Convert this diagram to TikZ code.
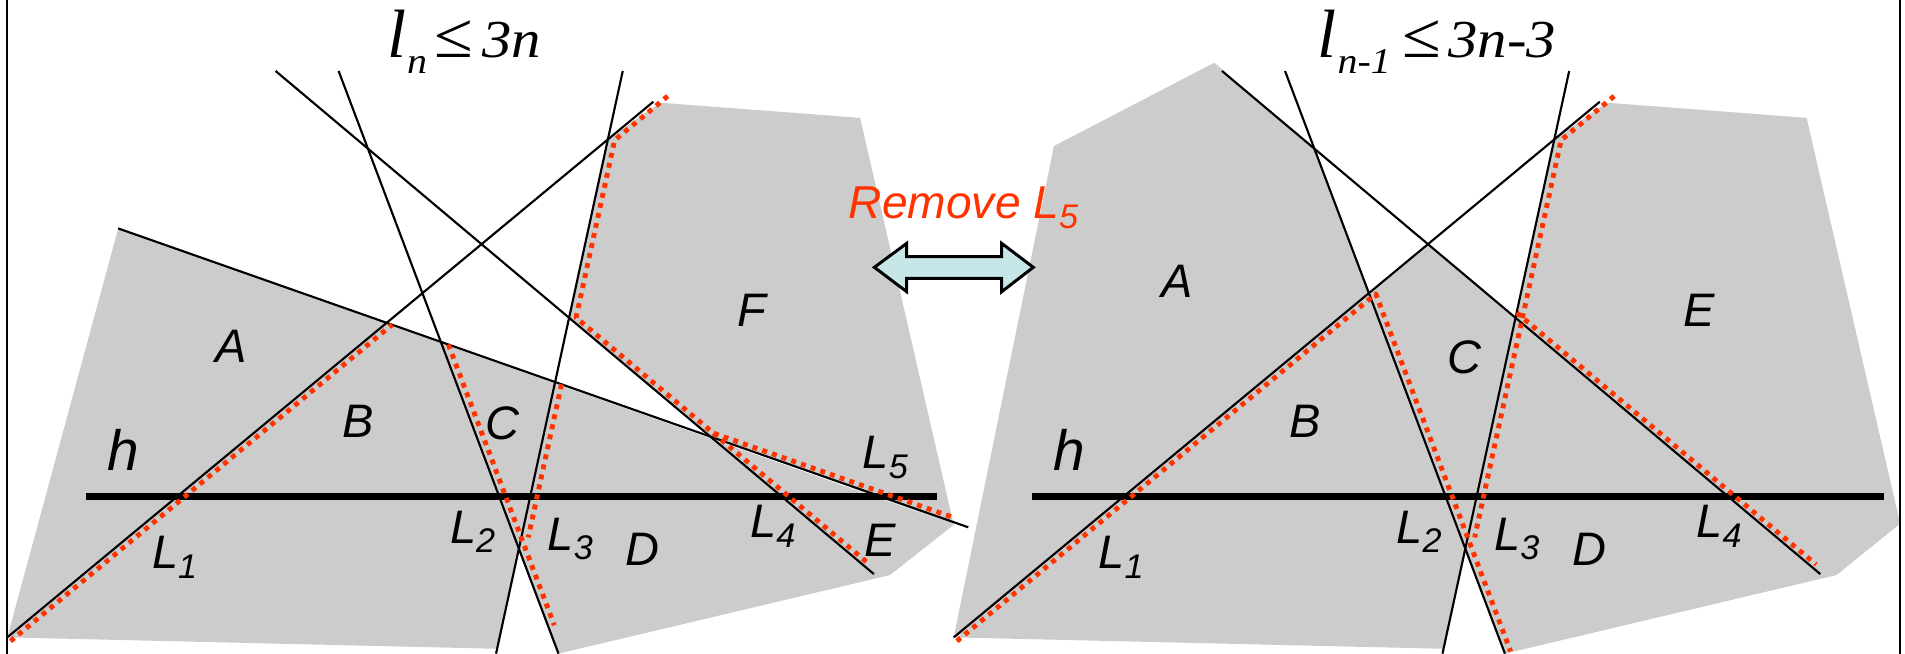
\documentclass[tikz,border=0pt]{standalone}
\usepackage{fontspec}
\usepackage{graphicx}
\setmainfont{Liberation Serif}
\newfontfamily\arialf{Liberation Sans}
\newfontfamily\timesf{Liberation Serif}
\usetikzlibrary{calc}
\definecolor{greyface}{RGB}{204,204,204}
\definecolor{zonered}{RGB}{255,51,0}
\definecolor{arrowfill}{RGB}{198,230,232}
\newcommand\Ls[1]{\textit{L}\raisebox{-2.3pt}{\fontsize{8}{8}\selectfont\textit{#1}}}
\newcommand\DefLines[2]{%
  \coordinate (#1L1a) at (6+#2,524.6);
  \coordinate (#1L1b) at (537.8+#2,83.7);
  \coordinate (#1L2a) at (278.7+#2,58.4);
  \coordinate (#1L2b) at (459.7+#2,538);
  \coordinate (#1L3a) at (512.6+#2,58.4);
  \coordinate (#1L3b) at (408.3+#2,538);
  \coordinate (#1L4a) at (226.8+#2,58.4);
  \coordinate (#1L4b) at (719.3+#2,472.5);
  \coordinate (#1ha) at (70.6+#2,408.5);
  \coordinate (#1hb) at (771.5+#2,408.5);
  \coordinate (#1L1oa) at (8.6+#2,527.7);
  \coordinate (#1L1ob) at (549.6+#2,79.1);
  \coordinate (#1L2oa) at (283.4+#2,56.6);
  \coordinate (#1L2ob) at (464.4+#2,536.2);
  \coordinate (#1L3oa) at (518+#2,59.6);
  \coordinate (#1L3ob) at (413.7+#2,539.2);
  \coordinate (#1L4oa) at (229.2+#2,55.5);
  \coordinate (#1L4ob) at (721.7+#2,469.6);
}
\tikzset{
  blk/.style={draw=black, line width=0.5pt},
  hline/.style={draw=black, line width=1.7pt},
  zone/.style={draw=zonered, line width=1.15pt, dash pattern=on 1.15pt off 1.25pt},
  region/.style={font=\arialf\fontsize{11}{13}\selectfont\itshape, inner sep=0pt},
  hlab/.style={font=\arialf\fontsize{13.3}{15}\selectfont\itshape, inner sep=0pt},
  title/.style={anchor=base west, inner sep=0pt, font=\timesf\fontsize{12.5}{14}\selectfont},
}
\newcommand\Leq{{\fontsize{15}{15}\selectfont ≤}}
\begin{document}
\begin{tikzpicture}[x=0.01cm, y=-0.01cm, line join=round]
\useasboundingbox (0,0) rectangle (1568,538);
% ---------- coordinates ----------
\DefLines{a}{0}
\DefLines{b}{779}
\coordinate (aL5a) at (97.3,188);
\coordinate (aL5b) at (797,434);
\coordinate (aL5oa) at (98.5,184.7);
\coordinate (aL5ob) at (798.2,430.7);
% left intersections
\coordinate (aP13) at (intersection of aL1a--aL1b and aL3a--aL3b);
\coordinate (aP34) at (intersection of aL3a--aL3b and aL4a--aL4b);
\coordinate (aP45) at (intersection of aL4a--aL4b and aL5a--aL5b);
\coordinate (aP23) at (intersection of aL2a--aL2b and aL3a--aL3b);
\coordinate (aR13) at (intersection of aL1oa--aL1ob and aL3oa--aL3ob);
\coordinate (aR34) at (intersection of aL3oa--aL3ob and aL4oa--aL4ob);
\coordinate (aR45) at (intersection of aL4oa--aL4ob and aL5oa--aL5ob);
\coordinate (aS15) at (intersection of aL1oa--aL1ob and aL5a--aL5b);
\coordinate (aS25) at (intersection of aL2oa--aL2ob and aL5a--aL5b);
\coordinate (aS35) at (intersection of aL3oa--aL3ob and aL5a--aL5b);
% right intersections
\coordinate (bQ24) at (intersection of bL2a--bL2b and bL4a--bL4b);
\coordinate (bQ12) at (intersection of bL1a--bL1b and bL2a--bL2b);
\coordinate (bQ14) at (intersection of bL1a--bL1b and bL4a--bL4b);
\coordinate (bQ34) at (intersection of bL3a--bL3b and bL4a--bL4b);
\coordinate (bQ13) at (intersection of bL1a--bL1b and bL3a--bL3b);
\coordinate (bQ23) at (intersection of bL2a--bL2b and bL3a--bL3b);
\coordinate (bR12) at (intersection of bL1oa--bL1ob and bL2oa--bL2ob);
\coordinate (bR13) at (intersection of bL1oa--bL1ob and bL3oa--bL3ob);
\coordinate (bS43) at (intersection of bL4oa--bL4ob and bL3a--bL3b);
% ---------- grey faces ----------
\fill[greyface] (aL5a) -- (785,432) -- (732.6,473.3) -- (aL2b) -- (aP23) -- (409.2,534) -- (6,524.6) -- cycle;
\fill[greyface] (aP13) -- (543.3,84.5) -- (708,97) -- (785,432) -- (aP45) -- (aP34) -- cycle;
\fill[greyface] (999.5,51.6) -- (bQ24) -- (bQ12) -- (bQ14) -- (bQ34) -- (bQ13) -- (1322.3,84.5)
  -- (1487,97) -- (1564,431) -- (1511.6,473.3) -- (bL2b) -- (bQ23) -- (1188.2,534)
  -- (785,524.6) -- (867.5,120.2) -- cycle;
% ---------- frame ----------
\draw[blk] (5.8,0) -- (5.8,538);
\draw[blk] (1563.9,0) -- (1563.9,538);
% ---------- lines ----------
\foreach \p in {a,b}{
  \draw[blk] (\p L1a) -- (\p L1b);
  \draw[blk] (\p L2a) -- (\p L2b);
  \draw[blk] (\p L3a) -- (\p L3b);
  \draw[blk] (\p L4a) -- (\p L4b);
  \draw[hline] (\p ha) -- (\p hb);
}
\draw[blk] (aL5a) -- (aL5b);
% ---------- red zone edges, left ----------
\draw[zone] (aL1oa) -- (aS15);
\draw[zone] (aS25) -- ($(aL2oa)!0.955!(aL2ob)$);
\draw[zone] (aL1ob) -- (aR13) -- (aR34) -- (aR45) -- ($(aL5oa)!0.978!(aL5ob)$);
\draw[zone] (aS35) -- ($(aL3oa)!0.798!(aL3ob)$);
\draw[zone] (aR45) -- ($(aL4oa)!0.985!(aL4ob)$);
% ---------- red zone edges, right ----------
\draw[zone] (bL1oa) -- (bR12) -- (bL2ob);
\draw[zone] (bL1ob) -- (bR13) -- ($(bL3oa)!0.798!(bL3ob)$);
\draw[zone] (bS43) -- ($(bL4oa)!0.988!(bL4ob)$);
% ---------- arrow ----------
\draw[fill=arrowfill, line width=0.7pt, line join=miter] (719.7,220) -- (746.3,200.3) -- (746.3,211.3)
  -- (824.5,211.3) -- (824.5,200.3) -- (850.5,220) -- (824.5,240.1) -- (824.5,229.1)
  -- (746.3,229.1) -- (746.3,240.1) -- cycle;
\node[anchor=base west, text=zonered, font=\arialf\fontsize{10.8}{13}\selectfont\itshape, inner sep=0pt] (rem) at (698,180) {Remove \Ls{5}};
% ---------- titles ----------
\node[title] (t1) at (318,47.5) {{\fontsize{16}{16}\selectfont\itshape l}\hspace{0.2pt}\scalebox{1.1}[1]{\raisebox{-3.8pt}{\fontsize{8.5}{9}\selectfont\itshape n}\hspace{1.5pt}\Leq\hspace{2pt}{\itshape 3n}}};
\node[title] (t2) at (1084,47.5) {{\fontsize{16}{16}\selectfont\itshape l}\hspace{0.2pt}\scalebox{1.1}[1]{\raisebox{-3.6pt}{\fontsize{8.5}{9}\selectfont\itshape n-1}\hspace{2.5pt}\Leq\hspace{1.5pt}{\itshape 3n-3}}};
% ---------- labels, left ----------
\node[region] (aA) at (190.5,285) {A};
\node[region] (aB) at (294.9,346.7) {B};
\node[region] (aC) at (413.5,348.5) {C};
\node[region] (aD) at (529.2,452.5) {D};
\node[region] (aE) at (724.4,444.5) {E};
\node[region] (aF) at (619,255.8) {F};
\node[hlab] (ah) at (101.9,370.4) {h};
\node[region] (al1) at (143.7,459) {\Ls{1}};
\node[region] (al2) at (389,437.7) {\Ls{2}};
\node[region] (al3) at (469.5,443.7) {\Ls{3}};
\node[region] (al4) at (636,433) {\Ls{4}};
\node[region] (al5) at (728.7,376.6) {\Ls{5}};
% ---------- labels, right ----------
\node[region] (bA) at (969.3,231.7) {A};
\node[region] (bB) at (1074.2,346.7) {B};
\node[region] (bC) at (1205.2,294.5) {C};
\node[region] (bD) at (1308.2,452.5) {D};
\node[region] (bE) at (1398.8,255.8) {E};
\node[hlab] (bh) at (880.5,370) {h};
\node[region] (bl1) at (922.7,459) {\Ls{1}};
\node[region] (bl2) at (1168,437.7) {\Ls{2}};
\node[region] (bl3) at (1248.5,443.7) {\Ls{3}};
\node[region] (bl4) at (1415,433) {\Ls{4}};
\end{tikzpicture}
\end{document}
